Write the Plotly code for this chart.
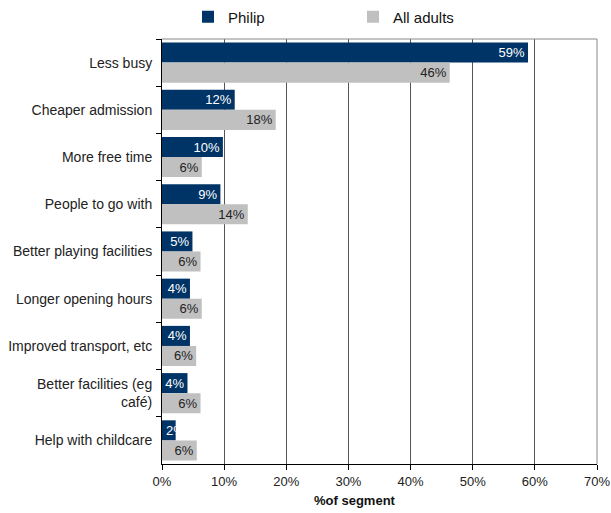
import plotly.graph_objects as go

categories = ["Less busy", "Cheaper admission", "More free time", "People to go with",
              "Better playing facilities", "Longer opening hours", "Improved transport, etc",
              "Better facilities (eg<br>café)", "Help with childcare"]
philip = [58.9, 11.7, 9.8, 9.4, 4.9, 4.5, 4.5, 4.1, 2.2]
all_adults = [46.3, 18.3, 6.4, 13.8, 6.2, 6.4, 5.5, 6.2, 5.6]
philip_labels = ["59%", "12%", "10%", "9%", "5%", "4%", "4%", "4%", "2%"]
adult_labels = ["46%", "18%", "6%", "14%", "6%", "6%", "6%", "6%", "6%"]
x_ticks = [0, 10, 20, 30, 40, 50, 60, 70]
x_ticklabels = ["0%", "10%", "20%", "30%", "40%", "50%", "60%", "70%"]

FONT = "Liberation Sans, Arial, sans-serif"

# labels that do not fit inside their bar are drawn as annotations starting at the bar base
fits = [v >= 3 for v in philip]
philip_pos = ["inside" if f else "none" for f in fits]

fig = go.Figure()
fig.add_trace(go.Bar(
    y=categories, x=philip, name="Philip", orientation="h",
    marker=dict(color="#003366", line=dict(width=0)),
    text=philip_labels, textposition=philip_pos, insidetextanchor="end",
    constraintext="none", textangle=0,
    textfont=dict(color="white", size=13, family=FONT),
))
fig.add_trace(go.Bar(
    y=categories, x=all_adults, name="All adults", orientation="h",
    marker=dict(color="#C0C0C0", line=dict(width=0)),
    text=adult_labels, textposition="inside", insidetextanchor="end",
    constraintext="none", textangle=0,
    textfont=dict(color="#222222", size=13, family=FONT),
))

for cat, lab, f in zip(categories, philip_labels, fits):
    if not f:
        fig.add_annotation(x=0, y=cat, xref="x", yref="y", text=lab, showarrow=False,
                           xanchor="left", yanchor="middle", xshift=2, yshift=10,
                           font=dict(color="white", size=13, family=FONT))

fig.add_annotation(x=0.444, y=0, xref="paper", yref="paper", yshift=-36,
                   text="<b>%of segment</b>", showarrow=False,
                   xanchor="center", yanchor="middle",
                   font=dict(size=13, color="#111111", family=FONT))

fig.update_layout(
    width=611, height=513,
    margin=dict(l=162, r=14, t=39, b=49),
    barmode="group", bargap=0.15, bargroupgap=0,
    plot_bgcolor="white", paper_bgcolor="white",
    font=dict(family=FONT, size=13, color="#222222"),
    showlegend=True,
    legend=dict(orientation="h", xref="container", yref="container",
                x=0.3077, y=0.967, yanchor="middle", xanchor="left",
                traceorder="normal", itemwidth=30, entrywidth=120, entrywidthmode="pixels",
                font=dict(size=15, color="#111111"), bgcolor="rgba(0,0,0,0)"),
    xaxis=dict(range=[0, 70], tickvals=x_ticks, ticktext=x_ticklabels,
               showgrid=True, gridcolor="#555555", gridwidth=1,
               showline=True, linecolor="black", linewidth=1,
               ticks="outside", ticklen=5, tickcolor="black", automargin=False,
               tickfont=dict(size=13, color="#222222"), zeroline=False),
    yaxis=dict(autorange="reversed", showline=True, linecolor="black", linewidth=1,
               ticks="outside", tickson="boundaries", ticklen=5, tickcolor="black",
               automargin=False, ticklabelstandoff=6,
               tickfont=dict(size=14, color="#222222"), showgrid=False),
)
# gray frame on top and right
fig.add_shape(type="line", xref="paper", yref="paper", x0=0, x1=1, y0=1, y1=1,
              line=dict(color="#888888", width=1))
fig.add_shape(type="line", xref="paper", yref="paper", x0=1, x1=1, y0=0, y1=1,
              line=dict(color="#888888", width=1))

# remove the browser's default page margin so the 611x513 figure fills the window exactly
fig.write_html("out.html",
               config={"displayModeBar": False},
               post_script="document.body.style.margin='0';"
                           "document.documentElement.style.overflow='hidden';")
